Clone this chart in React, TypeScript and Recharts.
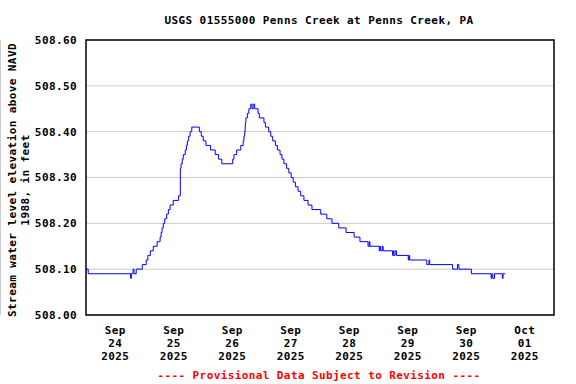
import React from 'react';
import { LineChart, Line, XAxis, YAxis, CartesianGrid, ReferenceArea } from 'recharts';

// Hours since Sep 24 2025 00:00 and gage height (ft above NAVD 1988)
const hours = [
  0, 0.9, 18.3, 18.6, 19.3, 19.7, 20.6, 23.1, 24.7, 25.4, 26.4, 27.6, 29.2, 30.4, 30.8, 31.2,
  31.7, 32.3, 33.1, 33.8, 34.5, 35.8, 38.0, 38.7, 39.0, 39.5, 39.9, 40.7, 41.2, 41.6, 42.1, 42.7,
  43.4, 46.5, 47.3, 48.1, 49.2, 51.1, 53.0, 54.4, 55.7, 60.2, 60.7, 61.8, 63.5, 64.5, 64.8, 65.1,
  65.3, 65.4, 65.6, 66.2, 66.8, 67.6, 68.1, 68.6, 69.2, 70.6, 71.1, 73.0, 73.6, 74.95, 75.8, 76.6,
  77.7, 78.5, 79.6, 80.4, 81.2, 82.3, 83.2, 84.2, 85.0, 85.9, 87.0, 88.1, 89.4, 91.1, 92.7, 96.3,
  98.8, 100.9, 103.7, 106.7, 110.0, 112.4, 115.7, 116.2, 116.5, 120.3, 120.6, 120.9, 121.6, 121.9,
  125.8, 126.0, 126.3, 126.8, 127.4, 132.2, 132.5, 132.8, 139.8, 140.7, 141.0, 150.4, 152.4, 153.0,
  158.1, 166.2, 166.5, 166.9, 167.6, 170.8, 171.1, 172.0,
];
const levels = [
  508.10, 508.09, 508.08, 508.09, 508.10, 508.09, 508.10, 508.11, 508.12, 508.13, 508.14, 508.15, 508.16, 508.17, 508.18, 508.19,
  508.20, 508.21, 508.22, 508.23, 508.24, 508.25, 508.26, 508.32, 508.33, 508.34, 508.35, 508.36, 508.37, 508.38, 508.39, 508.40,
  508.41, 508.40, 508.39, 508.38, 508.37, 508.36, 508.35, 508.34, 508.33, 508.34, 508.35, 508.36, 508.37, 508.38, 508.39, 508.40,
  508.41, 508.42, 508.43, 508.44, 508.45, 508.46, 508.45, 508.46, 508.45, 508.44, 508.43, 508.42, 508.41, 508.40, 508.39, 508.38,
  508.37, 508.36, 508.35, 508.34, 508.33, 508.32, 508.31, 508.30, 508.29, 508.28, 508.27, 508.26, 508.25, 508.24, 508.23, 508.22,
  508.21, 508.20, 508.19, 508.18, 508.17, 508.16, 508.15, 508.16, 508.15, 508.14, 508.15, 508.14, 508.15, 508.14,
  508.13, 508.14, 508.13, 508.14, 508.13, 508.12, 508.13, 508.12, 508.11, 508.12, 508.11, 508.10, 508.11, 508.10,
  508.09, 508.08, 508.09, 508.08, 508.09, 508.08, 508.09, 508.09,
];

const dayStarts = [0, 24, 48, 72, 96, 120, 144, 168, 192];
const labelHours = [12, 36, 60, 84, 108, 132, 156, 180];
const monthLabels = ['Sep', 'Sep', 'Sep', 'Sep', 'Sep', 'Sep', 'Sep', 'Oct'];
const dayLabels = ['24', '25', '26', '27', '28', '29', '30', '01'];
const yearLabels = ['2025', '2025', '2025', '2025', '2025', '2025', '2025', '2025'];
const yTicks = [508.0, 508.1, 508.2, 508.3, 508.4, 508.5, 508.6];

const title = 'USGS 01555000 Penns Creek at Penns Creek, PA';
const yTitle1 = 'Stream water level elevation above NAVD';
const yTitle2 = '1988, in feet';
const footnote = '---- Provisional Data Subject to Revision ----';

const data = hours.map((h, i) => ({ h, v: levels[i] }));

const FONT = '"DejaVu Sans Mono", "Liberation Mono", monospace';
const FS = 11;
const LS = 0.4;

function XTick(props: any) {
  const { x, y, payload } = props;
  const i = labelHours.indexOf(payload.value);
  if (i < 0) return null;
  return (
    <text x={x} y={y} textAnchor="middle" fontFamily={FONT} fontSize={FS} fontWeight="bold" letterSpacing={LS} fill="#000">
      <tspan x={x} dy={19}>{monthLabels[i]}</tspan>
      <tspan x={x} dy={13}>{dayLabels[i]}</tspan>
      <tspan x={x} dy={13}>{yearLabels[i]}</tspan>
    </text>
  );
}

export default function App() {
  return (
    <div style={{ position: 'absolute', left: 0, top: 0, width: 576, height: 384, background: '#fff' }}>
      <LineChart width={576} height={384} data={data} margin={{ top: 40, right: 22, left: 0, bottom: 0 }}>
        <CartesianGrid
          stroke="#cccccc"
          strokeWidth={1}
          verticalCoordinatesGenerator={({ xAxis }: any) =>
            dayStarts.map((d) => (xAxis && typeof xAxis.scale === 'function' ? xAxis.scale(d) : 0))
          }
        />
        <XAxis
          dataKey="h"
          type="number"
          domain={[0, 192]}
          ticks={labelHours}
          interval={0}
          height={69}
          tickLine={false}
          axisLine={false}
          tickSize={0}
          tickMargin={0}
          tick={<XTick />}
        />
        <YAxis
          type="number"
          domain={[508.0, 508.6]}
          ticks={yTicks}
          interval={0}
          width={86}
          tickLine={false}
          axisLine={false}
          tickSize={0}
          tickMargin={9}
          tickFormatter={(v: number) => v.toFixed(2)}
          tick={{ fontFamily: FONT, fontSize: FS, fontWeight: 'bold', fill: '#000', letterSpacing: LS } as any}
        />
        <Line
          type="stepAfter"
          dataKey="v"
          stroke="#0000ff"
          strokeWidth={1}
          dot={false}
          isAnimationActive={false}
        />
        <ReferenceArea x1={0} x2={192} y1={508.0} y2={508.6} fill="none" stroke="#000" strokeWidth={1.5} fillOpacity={0} />
      </LineChart>
      <svg width={576} height={384} style={{ position: 'absolute', left: 0, top: 0, pointerEvents: 'none' }}>
        <text x={319} y={24} textAnchor="middle" fontFamily={FONT} fontSize={FS} fontWeight="bold" letterSpacing={LS} fill="#000">
          {title}
        </text>
        <text transform="translate(16,180) rotate(-90)" textAnchor="middle" fontFamily={FONT} fontSize={FS} fontWeight="bold" letterSpacing={LS} fill="#000">
          {yTitle1}
        </text>
        <text transform="translate(29,180) rotate(-90)" textAnchor="middle" fontFamily={FONT} fontSize={FS} fontWeight="bold" letterSpacing={LS} fill="#000">
          {yTitle2}
        </text>
        <text x={319} y={379} textAnchor="middle" fontFamily={FONT} fontSize={FS} fontWeight="bold" letterSpacing={LS} fill="#ff0000">
          {footnote}
        </text>
      </svg>
    </div>
  );
}
